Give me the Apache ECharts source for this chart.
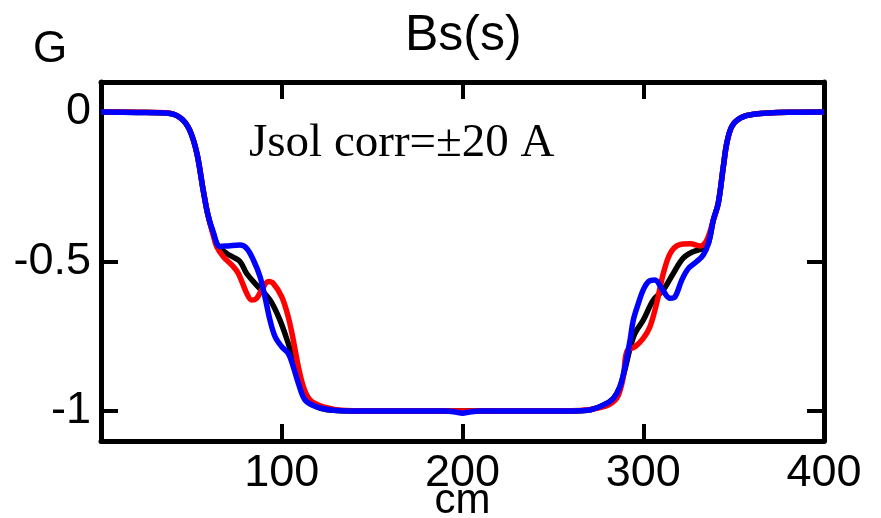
<!DOCTYPE html>
<html><head><meta charset="utf-8">
<script src="https://cdn.jsdelivr.net/npm/echarts@6/dist/echarts.min.js"></script>
<style>html,body{margin:0;padding:0;background:#fff}#c{width:881px;height:518px}</style>
</head><body><div id="c"></div>
<script>
const titleText = 'Bs(s)';
const xName = 'cm';
const yName = 'G';
const noteText = 'Jsol corr=\u00b120 A';
const xLabelValues = [100, 200, 300, 400];
const xTickValues = [100, 200, 300];
const yLabelValues = [0, -0.5, -1];
const yTickValues = [0, -0.5, -1];

const blackX = [0, 20, 36, 44, 49, 53, 56.5, 59, 62, 65, 69.5, 73, 76.9, 80.6, 86.1, 93.5, 99, 103.6, 106.4, 109.2, 112.9, 119.3, 128.5, 150, 250, 269.3, 278, 283.4, 287.1, 289.9, 292.7, 295.4, 300, 305.6, 311.1, 316.6, 322.1, 327.7, 333.2, 336, 338.8, 341.5, 344.3, 346.2, 349, 353.6, 361, 383, 400];
const blackY = [0, -0.002, -0.004, -0.02, -0.06, -0.137, -0.26, -0.34, -0.405, -0.45, -0.473, -0.485, -0.5, -0.54, -0.579, -0.629, -0.696, -0.774, -0.83, -0.88, -0.94, -0.985, -0.997, -1.0, -1.0, -0.997, -0.98, -0.958, -0.919, -0.86, -0.79, -0.74, -0.696, -0.629, -0.595, -0.54, -0.489, -0.467, -0.456, -0.44, -0.361, -0.305, -0.183, -0.105, -0.049, -0.021, -0.008, -0.001, 0];

const redX = [0, 20, 36, 44, 49, 53, 56.5, 59, 62, 64, 67.7, 73.2, 76, 80.6, 83.4, 86.1, 88.9, 92.6, 95.3, 100, 103.6, 106.4, 109.2, 112, 115.6, 123, 135, 160, 240, 265, 275, 282, 286, 289, 291, 295.4, 300, 303.7, 307.4, 311.1, 314.9, 319.5, 326, 331.5, 335.2, 338.8, 341.5, 344.3, 346.2, 349, 353.6, 361, 383, 400];
const redY = [0, -0.001, -0.003, -0.02, -0.06, -0.137, -0.26, -0.34, -0.41, -0.45, -0.484, -0.517, -0.54, -0.606, -0.629, -0.623, -0.595, -0.567, -0.573, -0.618, -0.685, -0.763, -0.852, -0.919, -0.963, -0.986, -0.998, -1.0, -1.0, -0.998, -0.99, -0.975, -0.95, -0.885, -0.80, -0.785, -0.757, -0.718, -0.64, -0.54, -0.473, -0.445, -0.441, -0.448, -0.428, -0.361, -0.305, -0.183, -0.105, -0.049, -0.021, -0.008, -0.001, 0];

const blueX = [0, 20, 36, 44, 49, 53, 56.5, 59, 62, 65.8, 71.4, 76.9, 80.6, 84.3, 88, 90.7, 93.5, 96.3, 100, 103.6, 106.4, 109.2, 112.9, 119.3, 128.5, 150, 190, 196, 200, 204, 210, 250, 269.3, 278, 283.4, 287.1, 289.9, 292.7, 294.5, 297.3, 300, 302.9, 306.5, 310.2, 314.9, 317.6, 321.3, 325, 329.6, 333.2, 336, 338.8, 341.5, 344.3, 346.2, 349, 353.6, 361, 383, 400];
const blueY = [0, -0.002, -0.004, -0.02, -0.06, -0.137, -0.26, -0.34, -0.40, -0.45, -0.447, -0.445, -0.456, -0.495, -0.551, -0.618, -0.696, -0.751, -0.785, -0.807, -0.852, -0.907, -0.963, -0.986, -0.997, -1.0, -1.0, -1.003, -1.007, -1.003, -1.0, -1.0, -0.997, -0.98, -0.958, -0.919, -0.852, -0.763, -0.696, -0.64, -0.595, -0.567, -0.562, -0.59, -0.623, -0.618, -0.562, -0.523, -0.5, -0.478, -0.44, -0.361, -0.305, -0.183, -0.105, -0.049, -0.021, -0.008, -0.001, 0];

const zip = (xs, ys) => xs.map((x, i) => [x, ys[i]]);
const FONT = '"Liberation Sans", Arial, sans-serif';
const axisLineStyle = { show: true, onZero: false, lineStyle: { color: '#000', width: 5 } };
const tickStyle = (vals) => ({ show: true, inside: true, length: 17, customValues: vals, lineStyle: { color: '#000', width: 4 } });

const chart = echarts.init(document.getElementById('c'), null, { renderer: 'canvas' });
chart.setOption({
  animation: false,
  backgroundColor: '#fff',
  title: { text: titleText, left: 400, top: 6, textStyle: { fontFamily: FONT, fontSize: 50, fontWeight: 'normal', color: '#000' } },
  grid: { left: 101, right: 57, top: 82, bottom: 77, containLabel: false, outerBoundsMode: 'none' },
  xAxis: [
    { type: 'value', position: 'bottom', min: 0, max: 400,
      name: xName, nameLocation: 'middle', nameGap: 39, nameMoveOverlap: false,
      nameTextStyle: { fontFamily: FONT, fontSize: 42, color: '#000', verticalAlign: 'top' },
      axisLine: axisLineStyle, axisTick: tickStyle(xTickValues),
      axisLabel: { customValues: xLabelValues, margin: 10, fontFamily: FONT, fontSize: 45, color: '#000' },
      splitLine: { show: false } },
    { type: 'value', position: 'top', min: 0, max: 400,
      axisLine: axisLineStyle, axisTick: tickStyle(xTickValues),
      axisLabel: { show: false }, splitLine: { show: false } }
  ],
  yAxis: [
    { type: 'value', position: 'left', min: -1.1, max: 0.1,
      axisLine: axisLineStyle, axisTick: tickStyle(yTickValues),
      axisLabel: { customValues: yLabelValues, margin: 10, fontFamily: FONT, fontSize: 45, color: '#000',
        formatter: v => String(v) },
      splitLine: { show: false } },
    { type: 'value', position: 'right', min: -1.1, max: 0.1,
      axisLine: axisLineStyle, axisTick: tickStyle(yTickValues),
      axisLabel: { show: false }, splitLine: { show: false } }
  ],
  graphic: [
    { type: 'text', left: 33, top: 28, style: { text: yName, font: '44px ' + FONT, fill: '#000' } },
    { type: 'text', left: 249, top: 120, style: { text: noteText, font: '47px "Liberation Serif", "Times New Roman", serif', fill: '#000' } }
  ],
  series: [
    { type: 'line', data: zip(blackX, blackY), smooth: 0.35, showSymbol: false, lineStyle: { color: '#000', width: 5.5 }, itemStyle: { color: '#000' } },
    { type: 'line', data: zip(redX, redY), smooth: 0.35, showSymbol: false, lineStyle: { color: '#ff0000', width: 5.5 }, itemStyle: { color: '#ff0000' } },
    { type: 'line', data: zip(blueX, blueY), smooth: 0.35, showSymbol: false, lineStyle: { color: '#0000ff', width: 5.5 }, itemStyle: { color: '#0000ff' } }
  ]
});
</script>
</body></html>
